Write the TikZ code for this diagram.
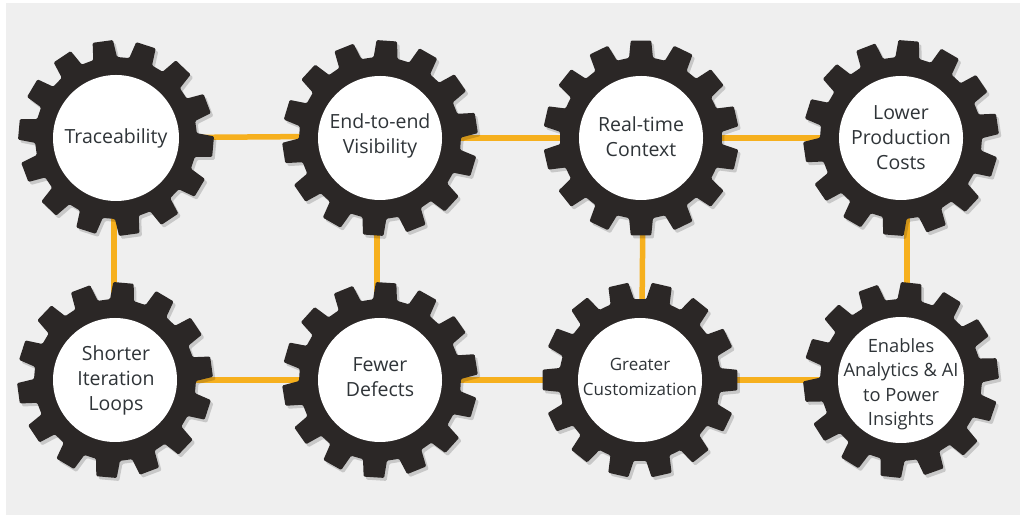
\documentclass[tikz,border=0pt]{standalone}
\usepackage{fontspec}
\setmainfont{Open Sans}
\pgfdeclarelayer{bg}
\pgfdeclarelayer{lines}
\pgfsetlayers{bg,lines,main}
\definecolor{bgc}{HTML}{EFEFEF}
\definecolor{gearc}{HTML}{2B2726}
\definecolor{linec}{HTML}{F6B01E}
\definecolor{textc}{HTML}{2F3438}
\tikzset{
  lbl/.style={circle, minimum size=124pt, inner sep=0pt, align=center,
    text=textc, font=\fontsize{19.5}{25}\selectfont},
  conn/.style={draw=linec, line width=5.5pt},
}
\newcommand\mygearpath[1]{%
  ({#1-8.5}:81) \foreach \k in {0,...,13}{
    -- ({#1+\k*25.7142857-8.5}:81) -- ({#1+\k*25.7142857-6}:98)
    -- ({#1+\k*25.7142857+6}:98) -- ({#1+\k*25.7142857+8.5}:81) } -- cycle}
\newcommand\mygear[4]{%
  \begin{scope}[shift={(#1,#2)}]
    \begin{scope}[shift={(2.5,-3)}]
      \fill[black, opacity=0.16, rounded corners=1.2pt] \mygearpath{#3};
    \end{scope}
    \fill[gearc, rounded corners=1.2pt] \mygearpath{#3};
    \fill[white] (0,0) circle[radius=#4];
  \end{scope}}
\begin{document}
\begin{tikzpicture}[x=1pt, y=1pt]
\useasboundingbox (0,0) rectangle (1024,519);
\begin{pgfonlayer}{bg}
  \fill[white] (0,0) rectangle (1024,519);
  \fill[bgc] (6,4) rectangle (1020,516);
\end{pgfonlayer}
% gears
\mygear{116}{381}{97.8}{63}
\mygear{380}{381}{86}{62}
\mygear{641}{381}{90}{62}
\mygear{901}{381}{85.5}{62}
\mygear{115}{139}{85}{62}
\mygear{380}{139}{86.4}{62}
\mygear{640}{139}{77.1}{62}
\mygear{901}{139}{84}{63}
% labels
\node[lbl] (trace) at (116,381) {Traceability};
\node[lbl] (e2e) at (380,383) {End-to-end\\Visibility};
\node[lbl] (rt) at (641,382) {Real-time\\Context};
\node[lbl] (lower) at (901,381) {Lower\\Production\\Costs};
\node[lbl] (short) at (116,139) {Shorter\\Iteration\\Loops};
\node[lbl] (fewer) at (380,142) {Fewer\\Defects};
\node[lbl, font=\fontsize{17}{25}\selectfont] (greater) at (640,142) {Greater\\Customization};
\node[lbl, font=\fontsize{18.3}{24.5}\selectfont] (enab) at (901,135) {Enables\\Analytics \& AI\\to Power\\Insights};
% connectors
\begin{pgfonlayer}{lines}
  \draw[conn] (trace) -- (e2e);
  \draw[conn] (e2e.east |- trace) -- (rt.west |- trace);
  \draw[conn] (rt.east |- trace) -- (lower.west |- trace);
  \draw[conn] ([xshift=-2pt]trace.south) -- ([xshift=-2pt]short.north);
  \draw[conn] ([xshift=-3pt]e2e.south) -- ([xshift=-3pt]fewer.north);
  \draw[conn] ([xshift=2pt]rt.south) -- ([xshift=2pt]greater.north);
  \draw[conn] ([xshift=6pt]lower.south) -- ([xshift=6pt]enab.north);
  \draw[conn] (short) -- (short -| fewer.west);
  \draw[conn] (fewer.east |- short) -- (greater.west |- short);
  \draw[conn] (greater.east |- short) -- (enab.west |- short);
\end{pgfonlayer}
\end{tikzpicture}
\end{document}
